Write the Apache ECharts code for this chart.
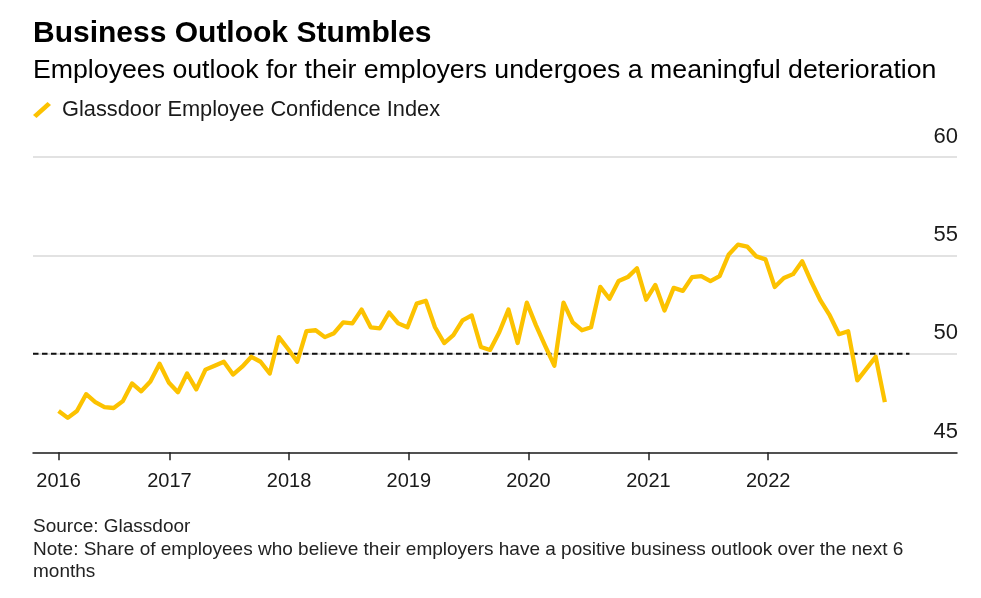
<!DOCTYPE html>
<html>
<head>
<meta charset="utf-8">
<script src="https://cdn.jsdelivr.net/npm/echarts@6/dist/echarts.min.js"></script>
<style>
html,body{margin:0;padding:0;background:#fff;}
#chart{width:981px;height:598px;}
</style>
</head>
<body>
<div id="chart"></div>
<script>
// ---- data ----
const seriesName = 'Glassdoor Employee Confidence Index';
const firstDate = '2016-01-29';   // first observation
const stepDays = 28;              // observations every 4 weeks
const confidence = [
  47.1, 46.75, 47.1, 47.95, 47.55, 47.3, 47.25, 47.6, 48.5, 48.1, 48.6, 49.5, 48.55,
  48.05, 49.0, 48.2, 49.2, 49.4, 49.6, 48.95, 49.35, 49.85, 49.6, 49.0, 50.85, 50.25,
  49.6, 51.15, 51.2, 50.85, 51.05, 51.6, 51.55, 52.25, 51.35, 51.3, 52.1, 51.55, 51.35,
  52.55, 52.7, 51.35, 50.55, 50.95, 51.7, 51.95, 50.35, 50.2, 51.1, 52.25, 50.55, 52.6,
  51.45, 50.4, 49.4, 52.6, 51.6, 51.2, 51.35, 53.4, 52.8, 53.7, 53.9, 54.35, 52.75,
  53.5, 52.2, 53.35, 53.2, 53.9, 53.95, 53.7, 53.95, 55.05, 55.55, 55.45, 54.95, 54.8,
  53.4, 53.85, 54.05, 54.7, 53.65, 52.7, 51.95, 51.0, 51.15, 48.65, 49.25, 49.85, 47.55
];
const referenceLevel = 50;
const yTicks = [45, 50, 55, 60];
const xTickDates = ['2016-01-29', '2017-01-01', '2018-01-01', '2019-01-01', '2020-01-01', '2021-01-01', '2022-01-01'];
const axisStart = '2015-11-12';
const axisEnd = '2023-07-31';
const refLineEnd = '2023-03-08';

// ---- build ----
const DAY = 86400000;
const ts = s => Date.parse(s + 'T00:00:00Z');
const t0 = ts(firstDate);
const lineData = confidence.map((v, i) => [t0 + i * stepDays * DAY, v]);

const chart = echarts.init(document.getElementById('chart'), null, {renderer: 'canvas'});
const FONT = '"Liberation Sans", Arial, Helvetica, sans-serif';
const YELLOW = '#fcc200';
const tickVals = xTickDates.map(ts);

function txt(x, y, text, font, fill) {
  return {type: 'text', x: x, y: y, silent: true,
          style: {text: text, font: font, fill: fill, align: 'left', verticalAlign: 'middle'}};
}

chart.setOption({
  animation: false,
  backgroundColor: '#fff',
  textStyle: {fontFamily: FONT},
  grid: {left: 33, right: 24, top: 157, bottom: 145.7, containLabel: false},
  legend: {
    left: 33, top: 99, padding: 0,
    data: [{name: seriesName, icon: 'path://M0,13 L14.5,0 L18,3 L3.5,16 Z'}],
    itemWidth: 18, itemHeight: 16,
    textStyle: {fontFamily: FONT, fontSize: 21.8, color: '#1a1a1a', padding: [0, 0, 0, 6]},
    selectedMode: false
  },
  xAxis: {
    type: 'value',
    min: ts(axisStart), max: ts(axisEnd),
    axisLine: {show: true, onZero: false, lineStyle: {color: '#222', width: 1.5}},
    axisTick: {show: true, length: 8, lineStyle: {color: '#222', width: 1.5},
               customValues: tickVals},
    axisLabel: {
      customValues: tickVals,
      formatter: v => String(new Date(v).getUTCFullYear()),
      fontFamily: FONT, fontSize: 20, color: '#1a1a1a', margin: 19
    },
    splitLine: {show: false}
  },
  yAxis: {
    type: 'value', position: 'right',
    min: 45, max: 60, interval: 5,
    axisLine: {show: false}, axisTick: {show: false},
    axisLabel: {
      inside: true, margin: -1, fontFamily: FONT, fontSize: 22, color: '#1a1a1a',
      verticalAlign: 'bottom', lineHeight: 41,
      formatter: v => yTicks.includes(v) ? String(v) : ''
    },
    splitLine: {show: true, lineStyle: {color: '#d9d9d9', width: 1.5}}
  },
  series: [
    {
      name: 'ref', type: 'line', silent: true, symbol: 'none',
      data: [[ts(axisStart), referenceLevel], [ts(refLineEnd), referenceLevel]],
      lineStyle: {color: '#111', width: 2, type: [5.5, 3.5]}, z: 3
    },
    {
      name: seriesName, type: 'line', symbol: 'none', data: lineData,
      lineStyle: {color: YELLOW, width: 4.3, join: 'round'}, itemStyle: {color: YELLOW}, z: 4
    }
  ],
  graphic: [
    txt(33, 33.5, 'Business Outlook Stumbles', 'bold 30px ' + FONT, '#000'),
    txt(33, 71, 'Employees outlook for their employers undergoes a meaningful deterioration', '26.7px ' + FONT, '#000'),
    txt(33, 527, 'Source: Glassdoor', '19px ' + FONT, '#222'),
    txt(33, 550, 'Note: Share of employees who believe their employers have a positive business outlook over the next 6', '19px ' + FONT, '#222'),
    txt(33, 572, 'months', '19px ' + FONT, '#222')
  ]
});
</script>
</body>
</html>
